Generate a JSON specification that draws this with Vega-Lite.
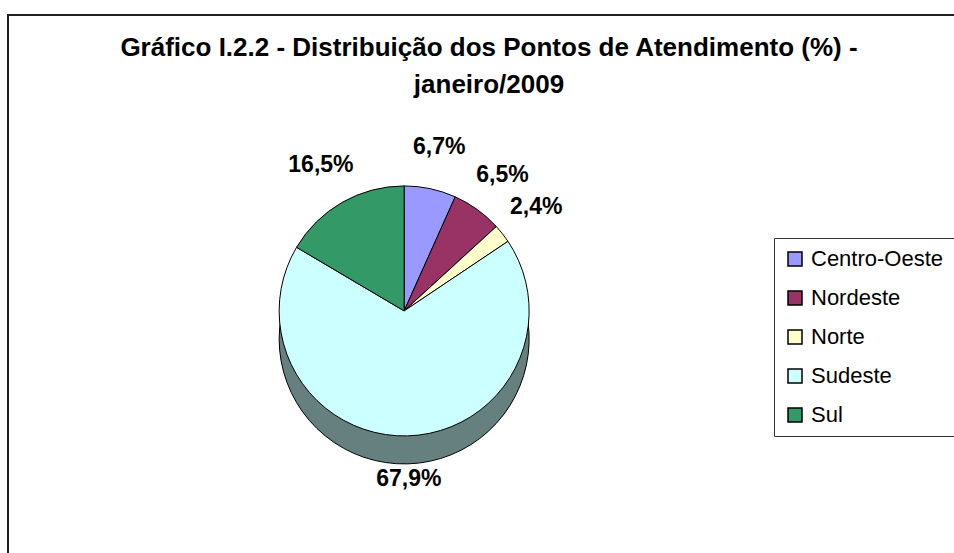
{
  "$schema": "https://vega.github.io/schema/vega-lite/v6.json",
  "width": 950,
  "height": 545,
  "padding": {"left": 7, "top": 14, "right": 0, "bottom": 0},
  "background": "white",
  "config": {
    "view": {"stroke": null},
    "font": "Liberation Sans"
  },
  "title": {
    "text": ["Gráfico I.2.2 - Distribuição dos Pontos de Atendimento (%) -", "janeiro/2009"],
    "font": "Liberation Sans",
    "fontSize": 26,
    "fontWeight": "bold",
    "color": "black",
    "anchor": "middle",
    "frame": "group",
    "orient": "top",
    "offset": -84,
    "lineHeight": 37,
    "dx": 6
  },
  "data": {
    "values": [
      {"regiao": "Centro-Oeste", "valor": 6.7, "rotulo": "6,7%", "ordem": 1},
      {"regiao": "Nordeste", "valor": 6.5, "rotulo": "6,5%", "ordem": 2},
      {"regiao": "Norte", "valor": 2.4, "rotulo": "2,4%", "ordem": 3},
      {"regiao": "Sudeste", "valor": 67.9, "rotulo": "67,9%", "ordem": 4},
      {"regiao": "Sul", "valor": 16.5, "rotulo": "16,5%", "ordem": 5}
    ]
  },
  "layer": [
    {
      "mark": {"type": "rect", "fill": null, "stroke": "#222222", "strokeWidth": 1.5},
      "encoding": {
        "x": {"value": 0},
        "x2": {"value": "width"},
        "y": {"value": 0},
        "y2": {"value": "height"}
      }
    },
    {
      "mark": {"type": "arc", "outerRadius": 125, "stroke": "black", "strokeWidth": 1, "x": {"expr": "width*0.417"}, "y": {"expr": "height*0.543+28"}},
      "encoding": {
        "theta": {"field": "valor", "type": "quantitative", "stack": true},
        "order": {"field": "ordem", "type": "ordinal"},
        "color": {
          "field": "regiao", "type": "nominal",
          "scale": {"domain": ["Centro-Oeste", "Nordeste", "Norte", "Sudeste", "Sul"], "range": ["#4d4d80", "#4d1a33", "#808066", "#668080", "#1a4d33"]},
          "legend": null
        }
      }
    },
    {
      "mark": {"type": "arc", "outerRadius": 125, "stroke": "black", "strokeWidth": 1, "x": {"expr": "width*0.417"}, "y": {"expr": "height*0.543"}},
      "encoding": {
        "theta": {"field": "valor", "type": "quantitative", "stack": true},
        "order": {"field": "ordem", "type": "ordinal"},
        "color": {
          "field": "regiao", "type": "nominal",
          "scale": {"domain": ["Centro-Oeste", "Nordeste", "Norte", "Sudeste", "Sul"], "range": ["#9999ff", "#993366", "#ffffcc", "#ccffff", "#339966"]},
          "legend": {
            "title": null,
            "orient": "none",
            "legendX": 766,
            "legendY": 223,
            "strokeColor": "#333333",
            "fillColor": "white",
            "padding": 10,
            "labelFont": "Liberation Sans",
            "labelFontSize": 22,
            "labelColor": "black",
            "symbolType": "square",
            "symbolSize": 196,
            "symbolStrokeColor": "black",
            "symbolStrokeWidth": 1.5,
            "symbolOpacity": 1,
            "rowPadding": 17,
            "labelOffset": 5,
            "labelLimit": 300
          }
        }
      }
    },
    {
      "mark": {"type": "text", "radius": 168, "fontSize": 23, "fontWeight": "bold", "font": "Liberation Sans", "color": "black", "x": {"expr": "width*0.417"}, "y": {"expr": "height*0.543"}},
      "encoding": {
        "theta": {"field": "valor", "type": "quantitative", "stack": true},
        "order": {"field": "ordem", "type": "ordinal"},
        "text": {"field": "rotulo", "type": "nominal"}
      }
    }
  ],
  "resolve": {"scale": {"color": "independent"}, "legend": {"color": "independent"}}
}
